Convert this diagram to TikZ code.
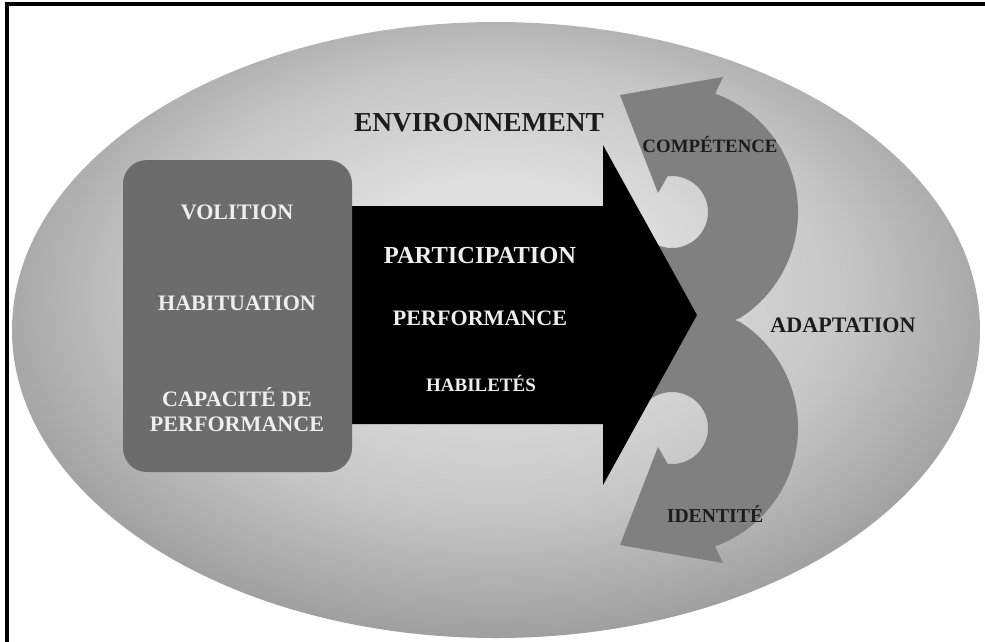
\documentclass[tikz,border=0pt]{standalone}
\usepackage{fontspec}
\setmainfont{Liberation Serif}
\usetikzlibrary{calc}

\definecolor{envlight}{RGB}{222,222,222}
\definecolor{envsoft}{RGB}{198,198,198}
\definecolor{envmid}{RGB}{160,160,160}
\definecolor{envdark}{RGB}{138,138,138}
\definecolor{loopgray}{RGB}{128,128,128}
\definecolor{boxgray}{RGB}{108,108,108}
\definecolor{inkdark}{RGB}{28,28,28}
\definecolor{inklight}{RGB}{238,238,238}

\pgfdeclareradialshading{envglow}{\pgfpoint{0bp}{5bp}}{%
  color(0bp)=(envlight); color(8bp)=(envlight);
  color(18bp)=(envsoft); color(27bp)=(envmid);
  color(34bp)=(envdark); color(50bp)=(envdark)}

\tikzset{
  frame-line/.style={line width=2.2pt, line cap=rect},
  label-dark/.style={text=inkdark, inner sep=0pt},
  label-light/.style={text=inklight, inner sep=0pt, align=center},
  size-title/.style={font=\bfseries\fontsize{19.5}{21}\selectfont},
  size-big/.style={font=\bfseries\fontsize{17.4}{19}\selectfont},
  size-mid/.style={font=\bfseries\fontsize{15.7}{17.7}\selectfont},
  size-small/.style={font=\bfseries\fontsize{13.5}{15}\selectfont}
}

% one curved arrow of the loop, head at the top pointing left
\newcommand{\cyclearrow}{
  \fill[loopgray] (620,95) -- (723,77) -- ($(672,212)+(-70:126)$)
    arc[start angle=-70, end angle=57, radius=126]
    -- (700,335) -- (660,300) -- ($(672,212)+(128:36)$)
    arc[start angle=128, end angle=-97, radius=36]
    -- (658,193) -- cycle;
}

\begin{document}
\begin{tikzpicture}[x=0.025cm, y=-0.025cm]
  \useasboundingbox (0,0) rectangle (985,641);

  % environment ellipse
  \shade[shading=envglow] (496,330) ellipse [x radius=484, y radius=308];

  % adaptation loop: two curved arrows
  \cyclearrow
  \begin{scope}[shift={(0,640)}, yscale=-1]
    \cyclearrow
  \end{scope}

  % big black arrow
  \fill[black] (340,206) -- (603,206) -- (603,145) -- (697,315)
    -- (603,485) -- (603,424) -- (340,424) -- cycle;

  % person box
  \fill[boxgray, rounded corners=17pt] (123,160) rectangle (352,472);

  % frame, only left and top edges show
  \draw[frame-line] (7,645) -- (7,4) -- (990,4);

  \node[label-dark, size-title] (env) at (479,123) {ENVIRONNEMENT};

  \node[label-light, size-mid] (volition) at (237,212) {VOLITION};
  \node[label-light, size-mid] (habituation) at (237,303) {HABITUATION};
  \node[label-light, size-mid] (capacity) at (237,410) {CAPACITÉ DE\\PERFORMANCE};

  \node[label-light, size-big] (participation) at (480,256) {PARTICIPATION};
  \node[label-light, size-mid] (performance) at (480,318) {PERFORMANCE};
  \node[label-light, size-small] (skills) at (481,383) {HABILETÉS};

  \node[label-dark, font=\bfseries\fontsize{13.4}{15}\selectfont] (competence) at (710,145) {COMPÉTENCE};
  \node[label-dark, size-mid] (adaptation) at (843,325) {ADAPTATION};
  \node[label-dark, font=\bfseries\fontsize{14}{15}\selectfont] (identity) at (715,514) {IDENTITÉ};
\end{tikzpicture}
\end{document}
